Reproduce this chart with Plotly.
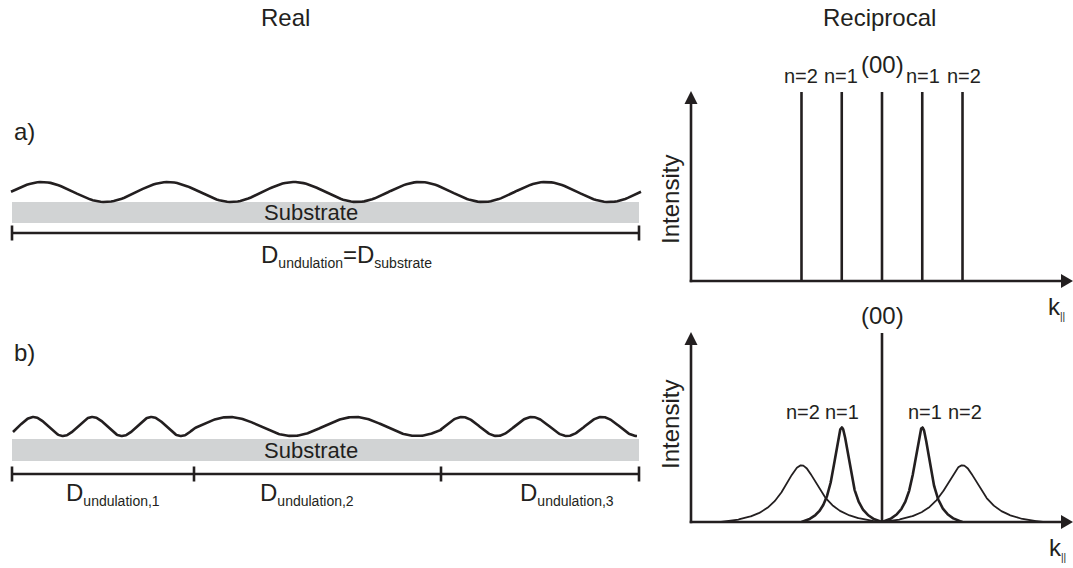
import numpy as np
import plotly.graph_objects as go

W, H = 1073, 568
INK = "#231f20"
SUB_GRAY = "#d1d3d4"
FONT = "Liberation Sans, Arial, Helvetica, sans-serif"

# ---------------- Real space (canvas pixel units) ----------------
substrate_x = [12, 639]
substrate_a_y = [202, 223]
substrate_b_y = [439, 461]

# undulation sections: start, end, period, position of a trough
wave_a_start = [11]
wave_a_end = [641]
wave_a_period = [126]
wave_a_trough = [105]
wave_a_level = [192, 10]          # mean height, amplitude

wave_b_start = [13, 194, 441]
wave_b_end = [194, 441, 637]
wave_b_period = [59, 125, 70]
wave_b_trough = [63, 292, 497]
wave_b_level = [426.5, 9.5]

bracket_a_ticks = [12, 639]
bracket_a_y = 233
bracket_b_ticks = [12, 194, 441, 639]
bracket_b_y = 474

# ---------------- Reciprocal space (k in units of rod spacing) ----------------
rod_orders_a = [-2, -1, 0, 1, 2]
rod_intensity_a = [1.0, 1.0, 1.0, 1.0, 1.0]

specular_b = 1.0
peak_orders_b = [-2, -1, 1, 2]
peak_height_b = [0.30, 0.50, 0.50, 0.30]
peak_hwhm_b = [0.56, 0.25, 0.25, 0.56]
peak_width_px_b = [1.8, 2.6, 2.6, 1.8]

K_RANGE = 4.745

fig = go.Figure()


def add_wave(starts, ends, periods, troughs, level):
    mid, amp = level
    xs, ys = [], []
    for s, e, p, t in zip(starts, ends, periods, troughs):
        x = np.linspace(s, e, 240)
        y = mid + amp * np.cos(2 * np.pi * (x - t) / p)
        xs.extend(x.tolist())
        ys.extend(y.tolist())
    fig.add_trace(go.Scatter(x=xs, y=ys, mode="lines", line=dict(color=INK, width=2.6),
                             xaxis="x", yaxis="y", hoverinfo="skip", showlegend=False))


def add_bracket(ticks, y):
    xs, ys = [ticks[0], ticks[-1]], [y, y]
    fig.add_trace(go.Scatter(x=xs, y=ys, mode="lines", line=dict(color=INK, width=2.6),
                             xaxis="x", yaxis="y", hoverinfo="skip", showlegend=False))
    for t in ticks:
        fig.add_trace(go.Scatter(x=[t, t], y=[y - 7.5, y + 7.5], mode="lines",
                                 line=dict(color=INK, width=2.6),
                                 xaxis="x", yaxis="y", hoverinfo="skip", showlegend=False))


add_wave(wave_a_start, wave_a_end, wave_a_period, wave_a_trough, wave_a_level)
add_wave(wave_b_start, wave_b_end, wave_b_period, wave_b_trough, wave_b_level)
add_bracket(bracket_a_ticks, bracket_a_y)
add_bracket(bracket_b_ticks, bracket_b_y)

# reciprocal a: sharp rods
for k, inten in zip(rod_orders_a, rod_intensity_a):
    fig.add_trace(go.Scatter(x=[k, k], y=[0, inten], mode="lines",
                             line=dict(color=INK, width=2.6),
                             xaxis="x2", yaxis="y2", hoverinfo="skip", showlegend=False))

# reciprocal b: specular rod + broadened satellites
fig.add_trace(go.Scatter(x=[0, 0], y=[0, specular_b], mode="lines",
                         line=dict(color=INK, width=2.6),
                         xaxis="x3", yaxis="y3", hoverinfo="skip", showlegend=False))


def lorentz_cut(k, c, h, w):
    L = 1.0 / (1.0 + ((k - c) / w) ** 2)
    L0 = 1.0 / (1.0 + (c / w) ** 2)
    return h * np.clip((L - L0) / (1.0 - L0), 0, None)


for c, h, w, lw in zip(peak_orders_b, peak_height_b, peak_hwhm_b, peak_width_px_b):
    k = np.linspace(c - abs(c), c + abs(c), 400)
    fig.add_trace(go.Scatter(x=k, y=lorentz_cut(k, c, h, w), mode="lines",
                             line=dict(color=INK, width=lw),
                             xaxis="x3", yaxis="y3", hoverinfo="skip", showlegend=False))

# ---------------- shapes: substrates, axes arrows ----------------
shapes = []
for yy in (substrate_a_y, substrate_b_y):
    shapes.append(dict(type="rect", xref="x", yref="y", x0=substrate_x[0], x1=substrate_x[1],
                       y0=yy[0], y1=yy[1], fillcolor=SUB_GRAY, line=dict(width=0), layer="below"))

for base, top in ((281, 92), (522, 333)):
    shapes.append(dict(type="line", xref="x", yref="y", x0=691, x1=691, y0=base + 1.2, y1=top + 8,
                       line=dict(color=INK, width=2.6)))
    shapes.append(dict(type="line", xref="x", yref="y", x0=689.7, x1=1064, y0=base, y1=base,
                       line=dict(color=INK, width=2.6)))
    shapes.append(dict(type="path", xref="x", yref="y",
                       path=f"M 684.5 {top + 12} L 691 {top - 1} L 697.5 {top + 12} Z",
                       fillcolor=INK, line=dict(width=0)))
    shapes.append(dict(type="path", xref="x", yref="y",
                       path=f"M 1061 {base - 7} L 1073 {base} L 1061 {base + 7} Z",
                       fillcolor=INK, line=dict(width=0)))

# ---------------- text ----------------
def ann(text, x, y, size, xanchor="center", angle=0):
    return dict(text=text, x=x, y=y, xref="x", yref="y", showarrow=False,
                xanchor=xanchor, yanchor="middle", textangle=angle,
                font=dict(family=FONT, size=size, color=INK))

SUBSPAN = "<sub><span style='font-size:14px'>{}</span></sub>"
KLABEL = "k<sub><span style='font-size:10px'>||</span></sub>"

annotations = [
    ann("Real", 285, 17, 24),
    ann("Reciprocal", 879, 17, 24),
    ann("a)", 24, 131, 24),
    ann("b)", 24, 352, 24),
    ann("Substrate", 311, 212.5, 22),
    ann("Substrate", 311, 450, 22),
    ann("D" + SUBSPAN.format("undulation") + "=D" + SUBSPAN.format("substrate"), 259, 256, 24, "left"),
    ann("D" + SUBSPAN.format("undulation,1"), 64, 494, 24, "left"),
    ann("D" + SUBSPAN.format("undulation,2"), 258, 494, 24, "left"),
    ann("D" + SUBSPAN.format("undulation,3"), 518, 494, 24, "left"),
    ann("Intensity", 670, 200, 24, angle=-90),
    ann("Intensity", 670, 425, 24, angle=-90),
    ann("(00)", 882, 64, 24),
    ann("(00)", 882, 315, 24),
    ann("n=2", 801, 76, 20), ann("n=1", 841, 76, 20),
    ann("n=1", 923, 76, 20), ann("n=2", 964, 76, 20),
    ann("n=2", 803, 412, 20), ann("n=1", 842, 412, 20),
    ann("n=1", 925, 412, 20), ann("n=2", 965, 412, 20),
    ann(KLABEL, 1046, 307, 24, "left"),
    ann(KLABEL, 1047, 548, 24, "left"),
]

ax_hidden = dict(visible=False, showgrid=False, zeroline=False, fixedrange=True)
fig.update_layout(
    width=W, height=H, autosize=False,
    margin=dict(l=0, r=0, t=0, b=0),
    paper_bgcolor="white", plot_bgcolor="rgba(0,0,0,0)",
    showlegend=False,
    xaxis=dict(domain=[0, 1], range=[0, W], **ax_hidden),
    yaxis=dict(domain=[0, 1], range=[H, 0], **ax_hidden),
    xaxis2=dict(domain=[691 / W, 1], range=[-K_RANGE, K_RANGE], anchor="y2", **ax_hidden),
    yaxis2=dict(domain=[1 - 281 / H, 1 - 92 / H], range=[0, 1], anchor="x2", **ax_hidden),
    xaxis3=dict(domain=[691 / W, 1], range=[-K_RANGE, K_RANGE], anchor="y3", **ax_hidden),
    yaxis3=dict(domain=[1 - 522 / H, 1 - 333 / H], range=[0, 1], anchor="x3", **ax_hidden),
    shapes=shapes,
    annotations=annotations,
)

fig.write_html("out.html")
